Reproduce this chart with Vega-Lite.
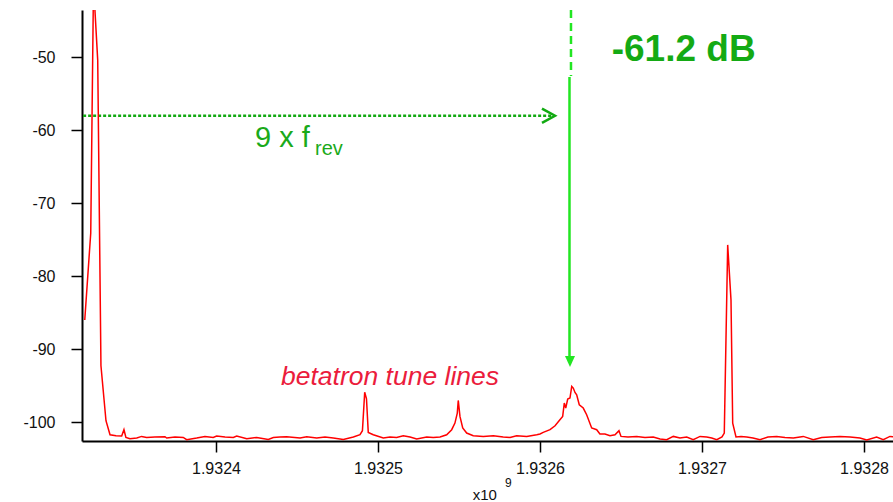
{
  "$schema": "https://vega.github.io/schema/vega-lite/v6.json",
  "width": 811,
  "height": 431,
  "autosize": {"type": "none"},
  "padding": {"left": 82, "top": 10, "right": 0, "bottom": 61},
  "background": "white",
  "config": {
    "view": {"stroke": null},
    "font": "Liberation Sans",
    "axis": {
      "grid": false,
      "domainColor": "black",
      "domainWidth": 2,
      "tickColor": "black",
      "tickWidth": 1.5,
      "tickSize": 11,
      "labelFont": "Liberation Sans",
      "labelFontSize": 16,
      "labelColor": "#111111",
      "title": null
    }
  },
  "datasets": {
    "spectrum": [
      {"f": 1932319000, "db": -86.0},
      {"f": 1932322700, "db": -74.07},
      {"f": 1932324400, "db": -40.0},
      {"f": 1932327000, "db": -50.37},
      {"f": 1932329000, "db": -92.29},
      {"f": 1932332100, "db": -99.82},
      {"f": 1932334600, "db": -101.74},
      {"f": 1932338300, "db": -101.88},
      {"f": 1932341800, "db": -101.92},
      {"f": 1932343200, "db": -101.05},
      {"f": 1932344400, "db": -102.11},
      {"f": 1932346900, "db": -102.29},
      {"f": 1932351100, "db": -102.19},
      {"f": 1932354100, "db": -101.97},
      {"f": 1932357200, "db": -102.11},
      {"f": 1932362300, "db": -102.05},
      {"f": 1932368500, "db": -102.01},
      {"f": 1932369600, "db": -102.19},
      {"f": 1932374700, "db": -102.05},
      {"f": 1932379800, "db": -102.11},
      {"f": 1932381900, "db": -102.42},
      {"f": 1932388100, "db": -102.19},
      {"f": 1932393200, "db": -101.97},
      {"f": 1932398300, "db": -102.11},
      {"f": 1932400400, "db": -101.92},
      {"f": 1932405600, "db": -102.05},
      {"f": 1932410700, "db": -102.11},
      {"f": 1932412800, "db": -101.92},
      {"f": 1932419000, "db": -102.29},
      {"f": 1932425100, "db": -102.11},
      {"f": 1932432300, "db": -102.38},
      {"f": 1932435400, "db": -102.11},
      {"f": 1932439500, "db": -102.05},
      {"f": 1932443600, "db": -102.01},
      {"f": 1932451900, "db": -102.19},
      {"f": 1932456000, "db": -102.01},
      {"f": 1932462200, "db": -102.19},
      {"f": 1932467300, "db": -102.05},
      {"f": 1932472400, "db": -102.19},
      {"f": 1932478600, "db": -102.38},
      {"f": 1932484800, "db": -102.05},
      {"f": 1932488900, "db": -101.74},
      {"f": 1932490400, "db": -101.19},
      {"f": 1932491800, "db": -95.92},
      {"f": 1932492900, "db": -96.81},
      {"f": 1932494000, "db": -101.42},
      {"f": 1932497100, "db": -101.74},
      {"f": 1932503300, "db": -102.19},
      {"f": 1932507400, "db": -102.05},
      {"f": 1932511500, "db": -102.11},
      {"f": 1932515600, "db": -101.88},
      {"f": 1932519800, "db": -102.05},
      {"f": 1932523900, "db": -102.33},
      {"f": 1932530100, "db": -102.05},
      {"f": 1932534100, "db": -102.11},
      {"f": 1932538300, "db": -102.05},
      {"f": 1932542400, "db": -101.74},
      {"f": 1932545500, "db": -101.05},
      {"f": 1932547500, "db": -100.14},
      {"f": 1932548950, "db": -98.77},
      {"f": 1932549550, "db": -97.04},
      {"f": 1932550600, "db": -99.23},
      {"f": 1932552300, "db": -100.82},
      {"f": 1932554750, "db": -101.51},
      {"f": 1932558800, "db": -101.88},
      {"f": 1932565000, "db": -101.97},
      {"f": 1932571200, "db": -101.88},
      {"f": 1932577300, "db": -102.05},
      {"f": 1932581500, "db": -102.11},
      {"f": 1932585600, "db": -101.88},
      {"f": 1932591800, "db": -101.97},
      {"f": 1932598000, "db": -101.74},
      {"f": 1932600000, "db": -101.64},
      {"f": 1932602000, "db": -101.42},
      {"f": 1932606200, "db": -101.05},
      {"f": 1932609300, "db": -100.51},
      {"f": 1932612300, "db": -99.68},
      {"f": 1932614000, "db": -99.23},
      {"f": 1932615000, "db": -97.4},
      {"f": 1932615900, "db": -98.08},
      {"f": 1932617100, "db": -96.85},
      {"f": 1932618500, "db": -96.71},
      {"f": 1932619600, "db": -95.12},
      {"f": 1932620550, "db": -95.34},
      {"f": 1932621600, "db": -95.95},
      {"f": 1932622650, "db": -96.26},
      {"f": 1932624250, "db": -97.63},
      {"f": 1932626700, "db": -98.08},
      {"f": 1932628800, "db": -99.0},
      {"f": 1932631900, "db": -100.82},
      {"f": 1932635000, "db": -101.05},
      {"f": 1932637000, "db": -101.64},
      {"f": 1932640100, "db": -101.64},
      {"f": 1932643200, "db": -101.88},
      {"f": 1932646300, "db": -101.74},
      {"f": 1932648750, "db": -101.19},
      {"f": 1932650000, "db": -101.97},
      {"f": 1932654300, "db": -102.05},
      {"f": 1932659700, "db": -101.97},
      {"f": 1932664800, "db": -102.11},
      {"f": 1932669900, "db": -102.05},
      {"f": 1932674100, "db": -102.33},
      {"f": 1932678200, "db": -102.42},
      {"f": 1932682300, "db": -101.97},
      {"f": 1932686400, "db": -102.19},
      {"f": 1932690550, "db": -102.05},
      {"f": 1932694600, "db": -102.42},
      {"f": 1932698800, "db": -101.97},
      {"f": 1932702900, "db": -102.05},
      {"f": 1932706000, "db": -102.19},
      {"f": 1932709100, "db": -102.42},
      {"f": 1932712340, "db": -102.05},
      {"f": 1932713760, "db": -101.51},
      {"f": 1932715860, "db": -75.71},
      {"f": 1932717900, "db": -83.25},
      {"f": 1932718950, "db": -100.14},
      {"f": 1932720990, "db": -102.05},
      {"f": 1932724100, "db": -101.97},
      {"f": 1932727600, "db": -102.05},
      {"f": 1932731500, "db": -102.19},
      {"f": 1932735800, "db": -102.42},
      {"f": 1932740700, "db": -102.05},
      {"f": 1932746100, "db": -101.97},
      {"f": 1932751200, "db": -102.11},
      {"f": 1932756400, "db": -102.19},
      {"f": 1932762500, "db": -101.97},
      {"f": 1932768700, "db": -102.42},
      {"f": 1932773900, "db": -102.11},
      {"f": 1932779000, "db": -102.05},
      {"f": 1932785200, "db": -101.97},
      {"f": 1932791400, "db": -102.05},
      {"f": 1932797500, "db": -102.19},
      {"f": 1932801700, "db": -102.47},
      {"f": 1932807800, "db": -102.05},
      {"f": 1932811900, "db": -102.42},
      {"f": 1932816000, "db": -101.97},
      {"f": 1932819800, "db": -102.05}
    ]
  },
  "layer": [
    {
      "data": {"values": [{"f": 1932318000, "db": -58.0}, {"f": 1932608500, "db": -58.0}]},
      "mark": {"type": "line", "color": "#11aa11", "strokeWidth": 2.5, "strokeDash": [3, 2]},
      "encoding": {
        "x": {"field": "f", "type": "quantitative", "scale": {"domain": [1932317300, 1932817900], "nice": false, "zero": false},
          "axis": {"values": [1932400000, 1932500000, 1932600000, 1932700000, 1932800000], "labelExpr": "format(datum.value / 1e9, '.4f')", "labelPadding": 8}},
        "y": {"field": "db", "type": "quantitative", "scale": {"domain": [-102.6, -43.5], "nice": false, "zero": false},
          "axis": {"values": [-100, -90, -80, -70, -60, -50], "labelExpr": "'' + datum.value", "labelPadding": 16}}
      }
    },
    {
      "data": {"values": [{"f": 1932609258, "db": -58.0}]},
      "mark": {"type": "point", "shape": "M -1 -0.55 L 0 0 L -1 0.55", "filled": false, "stroke": "#11aa11", "strokeWidth": 2.5, "size": 676, "opacity": 1},
      "encoding": {"x": {"field": "f", "type": "quantitative"}, "y": {"field": "db", "type": "quantitative"}}
    },
    {
      "data": {"values": [{"f": 1932619134, "top": -43.5, "bottom": -52.56}]},
      "mark": {"type": "rule", "color": "#22e622", "strokeWidth": 2.5, "strokeDash": [8, 5]},
      "encoding": {"x": {"field": "f", "type": "quantitative"}, "y": {"field": "top", "type": "quantitative"}, "y2": {"field": "bottom"}}
    },
    {
      "data": {"values": [{"f": 1932618209, "top": -52.7, "bottom": -91.44}]},
      "mark": {"type": "rule", "color": "#22e622", "strokeWidth": 2.5},
      "encoding": {"x": {"field": "f", "type": "quantitative"}, "y": {"field": "top", "type": "quantitative"}, "y2": {"field": "bottom"}}
    },
    {
      "data": {"values": [{"f": 1932618517, "db": -91.7}]},
      "mark": {"type": "point", "shape": "M -1 -1.1 L 1 -1.1 L 0 1.1 Z", "filled": true, "color": "#22e622", "size": 100, "opacity": 1},
      "encoding": {"x": {"field": "f", "type": "quantitative"}, "y": {"field": "db", "type": "quantitative"}}
    },
    {
      "data": {"name": "spectrum"},
      "mark": {"type": "line", "color": "#ff0000", "strokeWidth": 1.5, "clip": true},
      "encoding": {"x": {"field": "f", "type": "quantitative"}, "y": {"field": "db", "type": "quantitative"}}
    },
    {
      "data": {"values": [{"f": 1932424074, "db": -62.25, "label": "9 x f"}]},
      "mark": {"type": "text", "align": "left", "baseline": "alphabetic", "font": "Liberation Sans", "fontSize": 29, "color": "#1aaa1a"},
      "encoding": {"x": {"field": "f", "type": "quantitative"}, "y": {"field": "db", "type": "quantitative"}, "text": {"field": "label"}}
    },
    {
      "data": {"values": [{"f": 1932461111, "db": -63.38, "label": "rev"}]},
      "mark": {"type": "text", "align": "left", "baseline": "alphabetic", "font": "Liberation Sans", "fontSize": 20, "color": "#1aaa1a"},
      "encoding": {"x": {"field": "f", "type": "quantitative"}, "y": {"field": "db", "type": "quantitative"}, "text": {"field": "label"}}
    },
    {
      "data": {"values": [{"f": 1932644257, "db": -50.5, "label": "-61.2 dB"}]},
      "mark": {"type": "text", "align": "left", "baseline": "alphabetic", "font": "Liberation Sans", "fontSize": 37, "fontWeight": "bold", "color": "#14aa14"},
      "encoding": {"x": {"field": "f", "type": "quantitative"}, "y": {"field": "db", "type": "quantitative"}, "text": {"field": "label"}}
    },
    {
      "data": {"values": [{"f": 1932440123, "db": -94.89, "label": "betatron tune lines"}]},
      "mark": {"type": "text", "align": "left", "baseline": "alphabetic", "font": "Liberation Sans", "fontSize": 26.5, "fontStyle": "italic", "color": "#eb1c3c"},
      "encoding": {"x": {"field": "f", "type": "quantitative"}, "y": {"field": "db", "type": "quantitative"}, "text": {"field": "label"}}
    },
    {
      "data": {"values": [{"f": 1932558456, "db": -110.64, "label": "x10"}]},
      "mark": {"type": "text", "align": "left", "baseline": "alphabetic", "font": "Liberation Sans", "fontSize": 15, "color": "#111111"},
      "encoding": {"x": {"field": "f", "type": "quantitative"}, "y": {"field": "db", "type": "quantitative"}, "text": {"field": "label"}}
    },
    {
      "data": {"values": [{"f": 1932578394, "db": -108.86, "label": "9"}]},
      "mark": {"type": "text", "align": "left", "baseline": "alphabetic", "font": "Liberation Sans", "fontSize": 12, "color": "#111111"},
      "encoding": {"x": {"field": "f", "type": "quantitative"}, "y": {"field": "db", "type": "quantitative"}, "text": {"field": "label"}}
    }
  ]
}
